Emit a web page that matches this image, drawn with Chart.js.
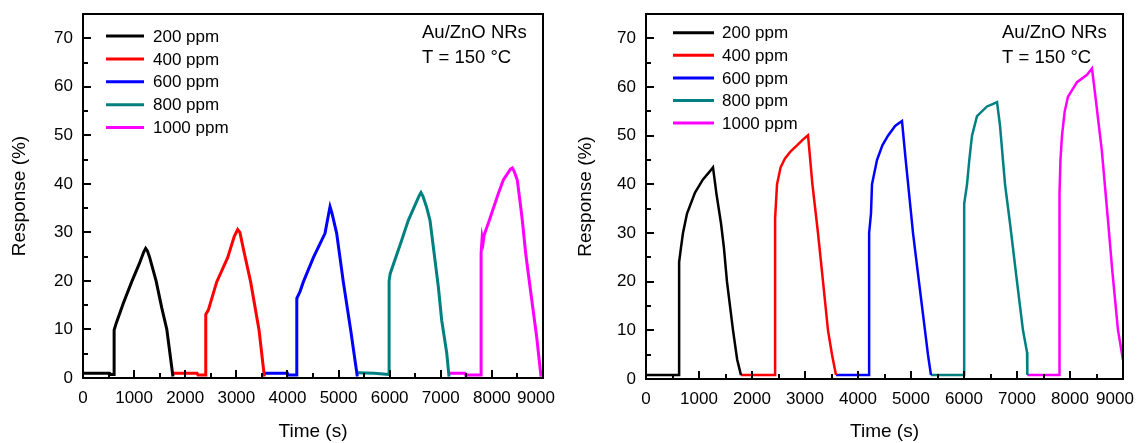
<!DOCTYPE html>
<html>
<head>
<meta charset="utf-8">
<script src="https://cdn.jsdelivr.net/npm/chart.js@4.4.0/dist/chart.umd.min.js"></script>
<style>
html,body{margin:0;padding:0;background:#fff;}
#wrap{position:relative;width:1138px;height:443px;overflow:hidden;}
.cell{position:absolute;top:0;width:569px;height:443px;}
</style>
</head>
<body>
<div id="wrap">
  <div class="cell" style="left:0"><canvas id="c1" width="569" height="443"></canvas></div>
  <div class="cell" style="left:569px"><canvas id="c2" width="569" height="443"></canvas></div>
</div>
<script>
// ---------- data ----------
const SERIES_LABELS = ['200 ppm', '400 ppm', '600 ppm', '800 ppm', '1000 ppm'];
const X_TICKS = [0, 1000, 2000, 3000, 4000, 5000, 6000, 7000, 8000, 9000];
const Y_TICKS = [0, 10, 20, 30, 40, 50, 60, 70];
const ANNOTATION = ['Au/ZnO NRs', 'T = 150 °C'];
const X_TITLE = 'Time (s)';
const Y_TITLE = 'Response (%)';

// left panel (time s, response %)
const L_T_200 = [0, 520, 545, 607, 609, 650, 789, 952, 1100, 1190, 1226, 1260, 1300, 1430, 1540, 1640, 1760];
const L_R_200 = [1.0, 1.0, 0.7, 0.7, 9.9, 11.3, 15.4, 19.8, 23.5, 26.0, 26.7, 26.2, 25.0, 20.0, 14.5, 10.0, 0.3];
const L_T_400 = [1760, 2230, 2250, 2400, 2402, 2452, 2616, 2830, 2960, 3026, 3070, 3130, 3280, 3444, 3548];
const L_R_400 = [1.0, 1.0, 0.6, 0.6, 13.1, 14.0, 19.8, 24.8, 29.2, 30.6, 30.0, 27.0, 19.8, 9.9, 0.3];
const L_T_600 = [3560, 4000, 4020, 4181, 4183, 4246, 4311, 4507, 4735, 4800, 4833, 4870, 4963, 5093, 5237, 5367];
const L_R_600 = [1.0, 1.0, 0.6, 0.6, 16.4, 17.8, 19.8, 24.8, 29.8, 33.5, 35.3, 34.0, 29.8, 19.8, 9.9, 0.3];
const L_T_800 = [5380, 5700, 5987, 5989, 6010, 6235, 6365, 6483, 6580, 6613, 6650, 6720, 6789, 6952, 7018, 7117, 7161];
const L_R_800 = [1.1, 1.0, 0.7, 20.0, 21.5, 28.4, 32.5, 35.3, 37.6, 38.2, 37.5, 35.3, 32.5, 18.8, 11.9, 5.1, 0.3];
const L_T_1000 = [7181, 7474, 7490, 7787, 7789, 7810, 7830, 7850, 7950, 8126, 8224, 8360, 8400, 8440, 8497, 8563, 8595, 8661, 8746, 8876, 8961];
const L_R_1000 = [1.0, 1.0, 0.6, 0.6, 25.7, 29.0, 28.0, 29.5, 32.5, 38.0, 40.8, 43.0, 43.3, 42.5, 40.8, 35.3, 32.5, 25.7, 18.8, 8.5, 0.3];

// right panel (time s, response %)
const R_T_200 = [0, 623, 625, 660, 698, 774, 925, 1075, 1200, 1264, 1330, 1415, 1470, 1528, 1642, 1720, 1792];
const R_R_200 = [0.8, 0.8, 24.0, 27.0, 30.0, 34.0, 38.3, 41.0, 42.6, 43.5, 38.0, 32.0, 27.0, 20.0, 10.0, 4.0, 0.8];
const R_T_400 = [1792, 2434, 2436, 2472, 2540, 2623, 2730, 2849, 2960, 3057, 3140, 3245, 3340, 3434, 3510, 3585];
const R_R_400 = [0.8, 0.8, 33.0, 40.0, 43.5, 45.3, 46.8, 48.0, 49.2, 50.1, 40.0, 30.0, 20.0, 10.0, 5.0, 0.8];
const R_T_600 = [3585, 4208, 4210, 4245, 4264, 4358, 4460, 4566, 4700, 4830, 4900, 5038, 5150, 5264, 5320, 5377];
const R_R_600 = [0.8, 0.8, 30.0, 34.0, 40.0, 45.0, 48.0, 50.0, 52.0, 53.0, 45.0, 30.0, 20.0, 10.0, 5.0, 0.8];
const R_T_800 = [5377, 6000, 6002, 6005, 6057, 6100, 6151, 6245, 6434, 6540, 6623, 6680, 6774, 6868, 7000, 7113, 7189, 7195];
const R_R_800 = [0.8, 0.8, 17.4, 36.0, 40.0, 45.0, 50.0, 54.0, 56.0, 56.5, 56.9, 52.0, 40.0, 32.0, 20.0, 10.0, 5.5, 0.8];
const R_T_1000 = [7195, 7800, 7802, 7820, 7849, 7900, 7962, 8132, 8321, 8415, 8480, 8600, 8717, 8800, 8906, 9000];
const R_R_1000 = [0.8, 0.8, 38.0, 45.0, 50.0, 55.0, 58.0, 61.0, 62.5, 63.8, 58.0, 47.0, 32.6, 22.0, 10.0, 3.9];

const COLORS = ['#000000', '#ff0000', '#0000ff', '#008080', '#ff00ff'];
const FONT = '"Liberation Sans", Arial, Helvetica, sans-serif';

function pts(t, r) { return t.map((v, i) => ({x: v, y: r[i]})); }

// ---------- plugins ----------
const framePlugin = {
  id: 'frame',
  beforeDraw(chart, args, o) {
    // nudge the last x tick label inward, as in the source figure
    const s = chart.scales.x;
    const items = s.getLabelItems(chart.chartArea);
    const last = items[items.length - 1];
    if (last && !last._shifted) {
      last.options.translation[0] -= o.lastShift;
      last._shifted = true;
    }
  },
  afterDatasetsDraw(chart) {
    const {ctx, chartArea: a, scales: {x, y}} = chart;
    ctx.save();
    ctx.strokeStyle = '#000';
    ctx.lineWidth = 2;
    ctx.beginPath();
    for (let v = 0; v <= 9000; v += 500) {
      const px = Math.round(x.getPixelForValue(v));
      const len = (v % 1000 === 0) ? 8 : 5;
      ctx.moveTo(px, a.bottom);
      ctx.lineTo(px, a.bottom - len);
    }
    for (let v = 0; v <= 75; v += 5) {
      const py = Math.round(y.getPixelForValue(v));
      const len = (v % 10 === 0) ? 8 : 5;
      ctx.moveTo(a.left, py);
      ctx.lineTo(a.left + len, py);
    }
    ctx.stroke();
    ctx.strokeRect(a.left, a.top, a.right - a.left, a.bottom - a.top);
    ctx.restore();
  }
};

const legendPlugin = {
  id: 'inLegend',
  afterDraw(chart, args, o) {
    const ctx = chart.ctx;
    ctx.save();
    ctx.font = '17px ' + FONT;
    ctx.textBaseline = 'middle';
    ctx.textAlign = 'left';
    chart.data.datasets.forEach((ds, i) => {
      const yy = o.y + i * o.dy;
      ctx.strokeStyle = ds.borderColor;
      ctx.lineWidth = 3;
      ctx.beginPath();
      ctx.moveTo(o.x, yy);
      ctx.lineTo(o.x + o.len, yy);
      ctx.stroke();
      ctx.fillStyle = '#000';
      ctx.fillText(ds.label, o.tx, yy + 1);
    });
    ctx.font = '18.5px ' + FONT;
    ANNOTATION.forEach((s, i) => ctx.fillText(s, o.ax, o.ay + i * 25));
    ctx.restore();
  }
};

function makeChart(id, seriesT, seriesR, opt) {
  const datasets = SERIES_LABELS.map((lab, i) => ({
    label: lab,
    data: pts(seriesT[i], seriesR[i]),
    borderColor: COLORS[i],
    backgroundColor: COLORS[i],
    borderWidth: opt.lw,
    pointRadius: 0,
    tension: 0,
    fill: false
  }));
  return new Chart(document.getElementById(id), {
    type: 'line',
    data: {datasets},
    plugins: [framePlugin, legendPlugin],
    options: {
      responsive: false,
      animation: false,
      events: [],
      layout: {padding: {left: 0, top: 14, right: opt.padRight, bottom: 0}},
      plugins: {
        legend: {display: false},
        tooltip: {enabled: false},
        inLegend: opt.legend,
        frame: {lastShift: opt.lastShift}
      },
      scales: {
        x: {
          type: 'linear', min: 0, max: 9000,
          afterBuildTicks: s => { s.ticks = X_TICKS.map(v => ({value: v})); },
          afterFit: s => { s.height = opt.xh; s.paddingLeft = 0; s.paddingRight = 0; },
          grid: {display: false, drawTicks: false},
          border: {display: false},
          ticks: {color: '#000', font: {family: FONT, size: 17}, padding: 10, maxRotation: 0, autoSkip: false,
                  callback: v => String(v)},
          title: {display: true, text: X_TITLE, color: '#000', font: {family: FONT, size: 19}, padding: {top: 0, bottom: 0}}
        },
        y: {
          type: 'linear', min: 0, max: 75,
          afterBuildTicks: s => { s.ticks = Y_TICKS.map(v => ({value: v})); },
          afterFit: s => { s.width = opt.yw; s.paddingTop = 0; s.paddingBottom = 0; },
          grid: {display: false, drawTicks: false},
          border: {display: false},
          ticks: {color: '#000', font: {family: FONT, size: 17}, padding: 10, callback: v => String(v)},
          title: {display: true, text: Y_TITLE, color: '#000', font: {family: FONT, size: 19}, padding: {top: opt.ytp, bottom: 0}}
        }
      }
    }
  });
}

makeChart('c1',
  [L_T_200, L_T_400, L_T_600, L_T_800, L_T_1000],
  [L_R_200, L_R_400, L_R_600, L_R_800, L_R_1000],
  {lw: 3, padRight: 26, xh: 65, yw: 83, ytp: 8, lastShift: 7,
   legend: {x: 106, len: 38, tx: 153, y: 36, dy: 22.9, ax: 422, ay: 33}});

makeChart('c2',
  [R_T_200, R_T_400, R_T_600, R_T_800, R_T_1000],
  [R_R_200, R_R_400, R_R_600, R_R_800, R_R_1000],
  {lw: 2.5, padRight: 15, xh: 64, yw: 77, ytp: 5, lastShift: 8,
   legend: {x: 104, len: 41, tx: 153, y: 32.7, dy: 22.6, ax: 433, ay: 33}});
</script>
</body>
</html>
